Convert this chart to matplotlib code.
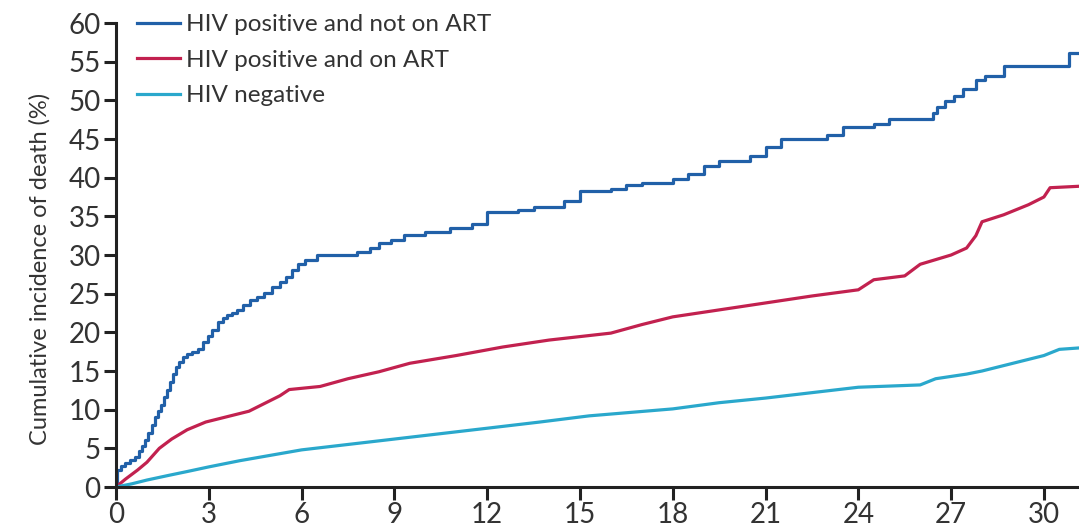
import matplotlib
matplotlib.use("Agg")
import matplotlib.pyplot as plt

# Cumulative incidence of death (%) by month
months_not_art = [0, 0.02, 0.15, 0.3, 0.45, 0.6, 0.75, 0.85, 0.95, 1.05, 1.15, 1.25, 1.35,
                  1.45, 1.55, 1.65, 1.75, 1.85, 1.95, 2.05, 2.17, 2.3, 2.45, 2.65, 2.8,
                  2.97, 3.1, 3.3, 3.45, 3.6, 3.75, 3.9, 4.1, 4.33, 4.55, 4.8, 5.05, 5.3,
                  5.5, 5.7, 5.9, 6.1, 6.5, 7.8, 8.2, 8.5, 8.9, 9.3, 10.0, 10.8, 11.5,
                  12.0, 13.0, 13.5, 14.5, 15.0, 16.0, 16.5, 17.0, 18.0, 18.5, 19.0, 19.5,
                  20.5, 21.0, 21.5, 23.0, 23.5, 24.5, 25.0, 26.4, 26.55, 26.8, 27.1, 27.4,
                  27.8, 28.1, 28.7, 30.8]
pct_not_art = [0, 2.2, 2.7, 3.1, 3.5, 3.9, 4.6, 5.3, 6.1, 7.0, 8.0, 9.0, 9.8,
               10.6, 11.6, 12.6, 13.6, 14.6, 15.5, 16.2, 16.8, 17.2, 17.5, 17.9, 18.7,
               19.5, 20.3, 21.3, 21.8, 22.2, 22.5, 22.9, 23.5, 24.2, 24.6, 25.1, 25.8,
               26.5, 27.2, 28.0, 28.8, 29.3, 30.0, 30.4, 30.9, 31.5, 32.0, 32.6, 33.0,
               33.5, 34.0, 35.6, 35.8, 36.2, 37.0, 38.3, 38.5, 39.0, 39.3, 39.8, 40.5,
               41.5, 42.2, 42.8, 44.0, 45.0, 45.5, 46.5, 47.0, 47.6, 48.4, 49.2, 49.9,
               50.6, 51.5, 52.6, 53.2, 54.4, 56.1]

months_on_art = [0, 0.3, 0.7, 1.0, 1.4, 1.8, 2.3, 2.6, 2.9, 3.5, 4.3, 4.9, 5.3, 5.6, 6.6,
                 7.5, 8.5, 9.5, 11.0, 12.5, 14.0, 16.0, 17.0, 18.0, 19.5, 21.0, 22.5, 24.0,
                 24.5, 25.5, 26.0, 27.0, 27.5, 27.8, 28.0, 28.7, 29.5, 30.0, 30.2, 31.2]
pct_on_art = [0, 1.0, 2.2, 3.2, 5.0, 6.2, 7.4, 7.9, 8.4, 9.0, 9.8, 11.0, 11.8, 12.6, 13.0,
              14.0, 14.9, 16.0, 17.0, 18.1, 19.0, 19.9, 21.0, 22.0, 22.9, 23.8, 24.7, 25.5,
              26.8, 27.3, 28.8, 30.0, 30.9, 32.5, 34.3, 35.2, 36.5, 37.5, 38.7, 38.9]

months_negative = [0, 0.5, 1.0, 1.7, 2.3, 3.0, 4.0, 5.0, 6.0, 7.5, 9.0, 10.5, 12.0, 13.7,
                   15.3, 16.5, 18.0, 19.5, 21.0, 22.5, 24.0, 26.0, 26.5, 27.0, 27.5, 28.0,
                   28.5, 29.0, 29.5, 30.0, 30.5, 31.2]
pct_negative = [0, 0.4, 0.9, 1.5, 2.0, 2.6, 3.4, 4.1, 4.8, 5.5, 6.2, 6.9, 7.6, 8.4,
                9.2, 9.6, 10.1, 10.9, 11.5, 12.2, 12.9, 13.2, 14.0, 14.3, 14.6, 15.0,
                15.5, 16.0, 16.5, 17.0, 17.8, 18.0]

series = [
    ("HIV positive and not on ART", months_not_art, pct_not_art, "#2160a8", "steps-post"),
    ("HIV positive and on ART", months_on_art, pct_on_art, "#c2214f", "default"),
    ("HIV negative", months_negative, pct_negative, "#2aa8cc", "default"),
]

x_ticks = list(range(0, 31, 3))
y_ticks = list(range(0, 61, 5))

plt.rcParams["font.family"] = ["Lato", "DejaVu Sans"]

fig = plt.figure(figsize=(10.79, 5.26), dpi=100)
ax = fig.add_axes([116 / 1079, 39 / 526, 963 / 1079, 464 / 526])

for label, xs, ys, color, style in series:
    if style == "steps-post":
        xs, ys = xs + [31.2], ys + [ys[-1]]
    ax.plot(xs, ys, drawstyle=style, color=color, lw=2.3, label=label)

ax.set_xlim(0, 963 / 30.93)
ax.set_ylim(0, 60)
ax.set_xticks(x_ticks)
ax.set_yticks(y_ticks)

for side in ("top", "right"):
    ax.spines[side].set_visible(False)
for side in ("left", "bottom"):
    ax.spines[side].set_linewidth(2.2)
    ax.spines[side].set_color("#222222")

ax.tick_params(axis="both", length=9, width=2.2, color="#222222",
               labelsize=20, labelcolor="#333333")
ax.tick_params(axis="x", pad=2)
ax.tick_params(axis="y", pad=2)

ax.set_ylabel("Cumulative incidence of death (%)", fontsize=17, color="#333333")
ax.yaxis.set_label_coords(-0.068, 0.47)

leg = ax.legend(loc="upper left", bbox_to_anchor=(0.012, 1.04), frameon=False,
                fontsize=17.5, handlelength=1.75, handletextpad=0.25,
                labelspacing=0.6, borderaxespad=0)
for text in leg.get_texts():
    text.set_color("#333333")

fig.savefig("out.png", dpi=100)
